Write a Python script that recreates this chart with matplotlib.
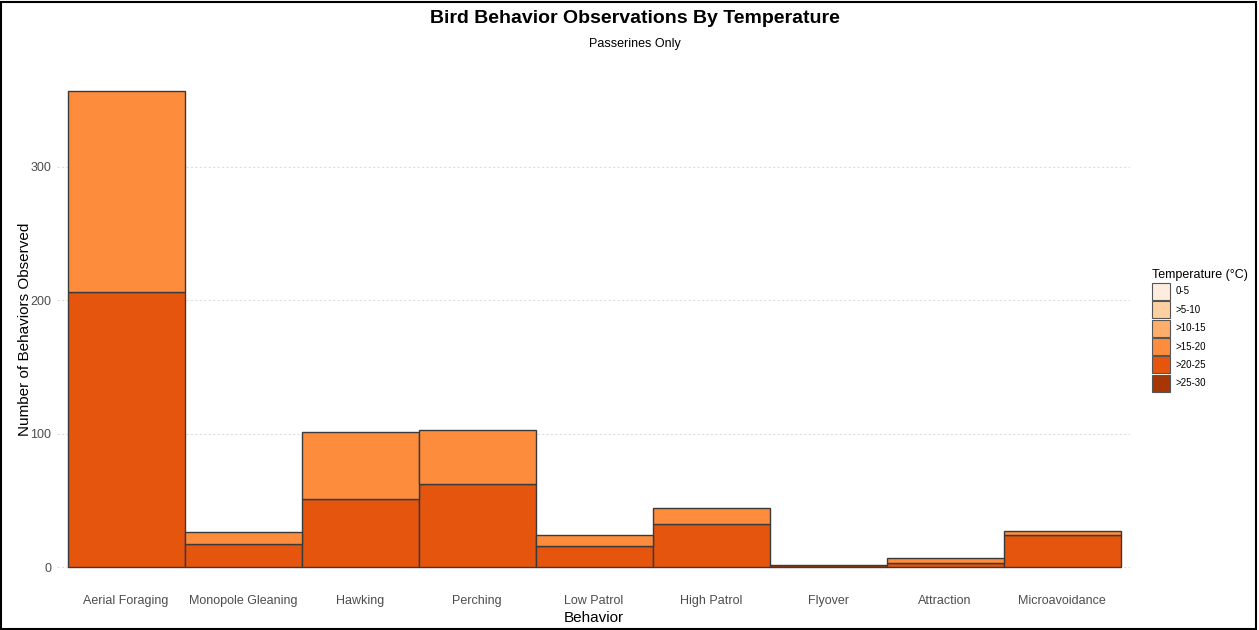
"""Stacked bar chart of passerine behaviours by temperature band."""

import matplotlib
matplotlib.use("Agg")
import matplotlib.pyplot as plt
from matplotlib.patches import Patch, Rectangle
import numpy as np

plt.rcParams["font.family"] = ["Liberation Sans", "DejaVu Sans"]

# ==============================================================================
# Data
# ==============================================================================

behaviors = ["Aerial Foraging", "Monopole Gleaning", "Hawking", "Perching",
             "Low Patrol", "High Patrol", "Flyover", "Attraction",
             "Microavoidance"]
temp_bands = ["0-5", ">5-10", ">10-15", ">15-20", ">20-25", ">25-30"]
band_colors = ["#FEEDDE", "#FDD0A2", "#FDAE6B", "#FD8D3C", "#E6550D", "#A63603"]

counts_0_5 = [0, 0, 0, 0, 0, 0, 0, 0, 0]
counts_5_10 = [0, 0, 0, 0, 0, 0, 0, 0, 0]
counts_10_15 = [0, 0, 0, 0, 0, 0, 0, 0, 0]
counts_15_20 = [151, 9, 50, 41, 8, 12, 0, 4, 3]
counts_20_25 = [206, 17, 51, 62, 16, 32, 0, 3, 24]
counts_25_30 = [0, 0, 0, 0, 0, 0, 2, 0, 0]

band_counts = [counts_0_5, counts_5_10, counts_10_15,
               counts_15_20, counts_20_25, counts_25_30]

# ==============================================================================
# Plot
# ==============================================================================

fig = plt.figure(figsize=(12.59, 6.30), dpi=100)
ax = fig.add_axes([0.0453, 0.0619, 0.8522, 0.8318])

x = np.arange(1, len(behaviors) + 1)
bottom = np.zeros(len(behaviors))
# ggplot stacks the last level at the bottom
for band, color, vals in reversed(list(zip(temp_bands, band_colors, band_counts))):
    vals = np.array(vals, dtype=float)
    mask = vals > 0
    ax.bar(x[mask], vals[mask], bottom=bottom[mask], width=1.0, color=color,
           edgecolor="#3a3a3a", linewidth=1.0, zorder=2)
    bottom += vals

top = bottom.max()
ax.set_ylim(-0.05 * top, top * 1.05)
ax.set_xlim(0.41, 9.58)
ax.set_xticks(x)
ax.set_xticklabels(behaviors)
ax.set_yticks([0, 100, 200, 300])
ax.tick_params(length=0, labelsize=9, colors="#4D4D4D", pad=4)
ax.tick_params(axis="x", pad=3)
ax.grid(axis="y", color="#DDDDDD", linestyle=(0, (2, 2)), linewidth=0.8, zorder=0)
for s in ax.spines.values():
    s.set_visible(False)

ax.set_xlabel("Behavior", fontsize=11, labelpad=2.5)
ax.set_ylabel("Number of Behaviors Observed", fontsize=11)
ax.yaxis.set_label_coords(-0.023, 0.5)

fig.text(0.504, 0.971, "Bird Behavior Observations By Temperature",
         ha="center", va="center", fontsize=14, fontweight="bold")
fig.text(0.504, 0.930, "Passerines Only", ha="center", va="center", fontsize=9)

handles = [Patch(facecolor=c, edgecolor="#555555", linewidth=0.8) for c in band_colors]
fig.legend(handles, temp_bands, title="Temperature (°C)",
           loc="upper left", bbox_to_anchor=(0.911, 0.580), frameon=False,
           fontsize=7, title_fontsize=9, handlelength=1.85, handleheight=2.3,
           handletextpad=0.6, labelspacing=0.15, alignment="left",
           borderaxespad=0, borderpad=0.5)

# screenshot frame
fig.add_artist(Rectangle((0.001, 0.002), 0.997, 0.995, transform=fig.transFigure,
                         fill=False, edgecolor="black", linewidth=1.5))

fig.savefig("out.png", dpi=100)
